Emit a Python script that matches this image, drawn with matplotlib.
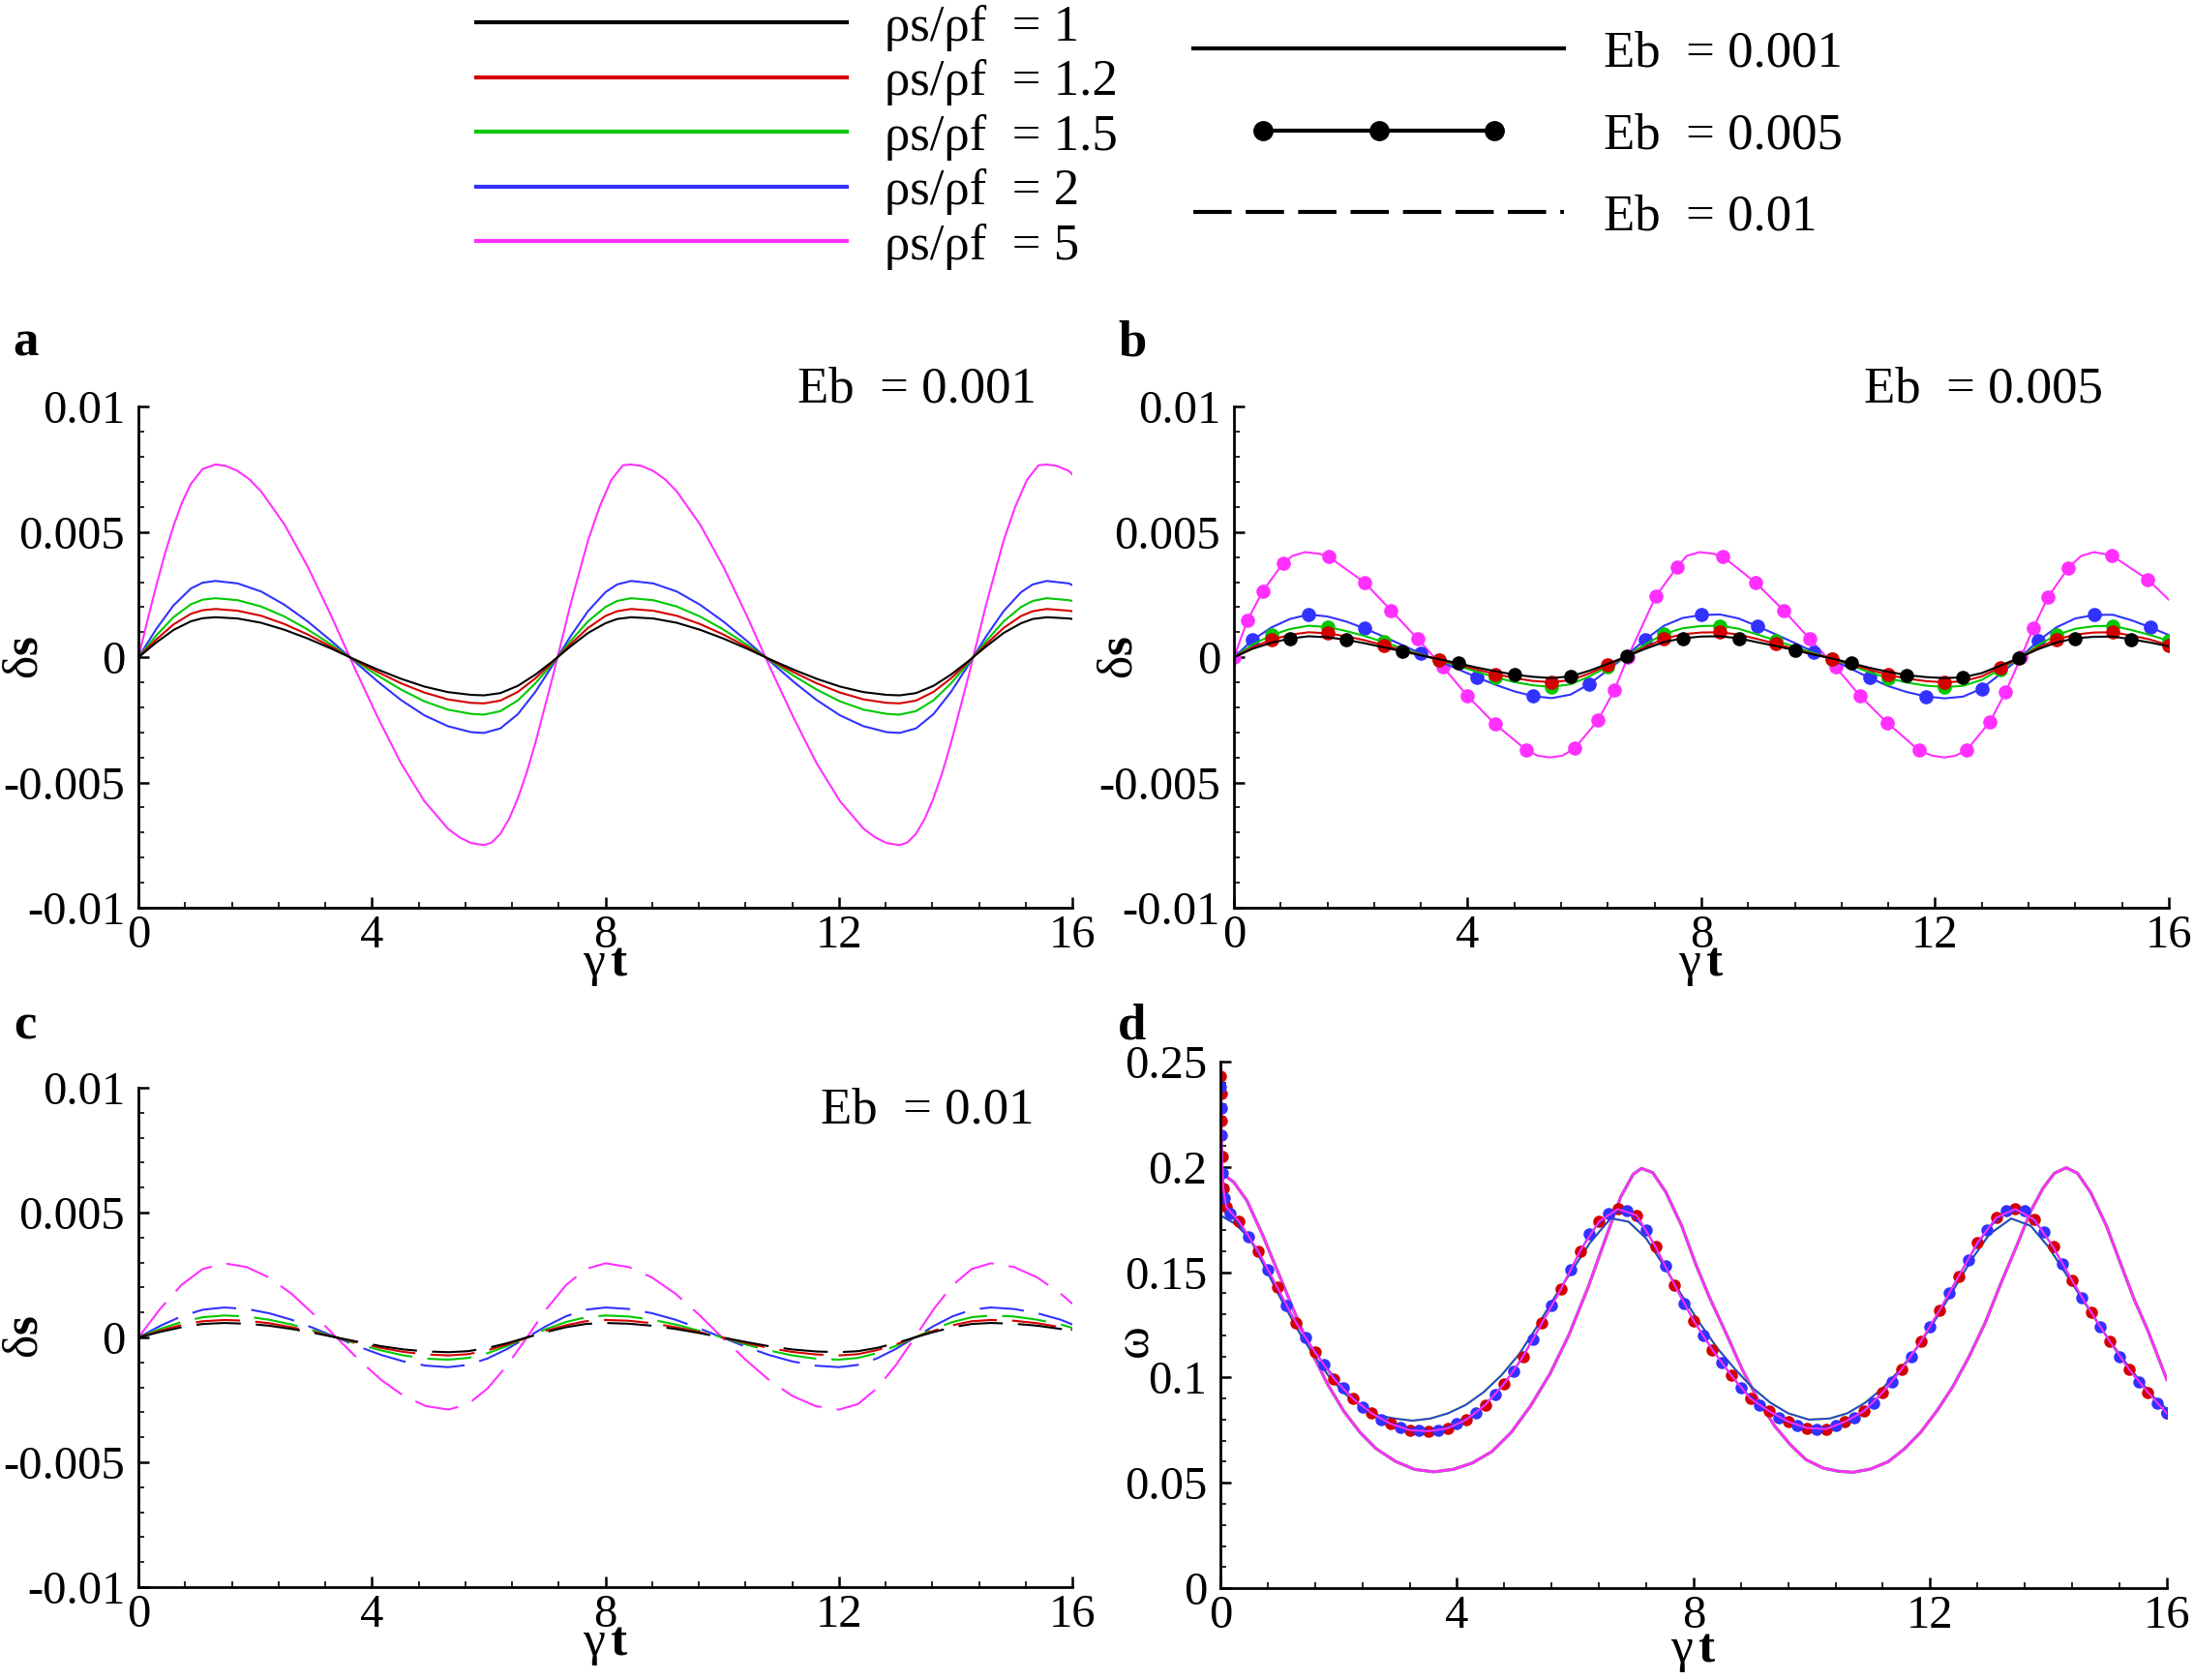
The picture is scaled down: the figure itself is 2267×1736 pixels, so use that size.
import numpy as np
import matplotlib
matplotlib.use("Agg")
import matplotlib.pyplot as plt
from matplotlib.lines import Line2D
from matplotlib.ticker import MultipleLocator
from matplotlib.legend_handler import HandlerLine2D

plt.rcParams.update({
    'font.family': ['Liberation Serif', 'DejaVu Serif'],
    'mathtext.fontset': 'custom',
    'mathtext.rm': 'Liberation Serif',
    'mathtext.bf': 'Liberation Serif:bold',
    'mathtext.it': 'Liberation Serif:italic',
    'axes.unicode_minus': False,
})

# ---------------- labels ----------------
rho_labels = ['ρs/ρf  = 1', 'ρs/ρf  = 1.2', 'ρs/ρf  = 1.5', 'ρs/ρf  = 2', 'ρs/ρf  = 5']
eb_labels = ['Eb  = 0.001', 'Eb  = 0.005', 'Eb  = 0.01']
x_ticks = [0, 4, 8, 12, 16]
x_ticklabels = ['0', '4', '8', '12', '16']
ds_ticks = [-0.01, -0.005, 0, 0.005, 0.01]
ds_ticklabels = ['-0.01', '-0.005', '0', '0.005', '0.01']
w_ticks = [0, 0.05, 0.1, 0.15, 0.2, 0.25]
w_ticklabels = ['0', '0.05', '0.1', '0.15', '0.2', '0.25']

# ---------------- panel a (Eb = 0.001), values in 1e-3 ----------------
t_a5 = [0, 0.15, 0.3, 0.45, 0.6, 0.75, 0.9, 1.1, 1.32, 1.5, 1.7, 1.9, 2.1, 2.5, 2.9, 3.3, 3.7,
        4.1, 4.5, 4.9, 5.3, 5.5, 5.7, 5.92, 6.05, 6.2, 6.35, 6.5, 6.65, 6.8, 7.1, 7.4, 7.7, 7.9,
        8.1, 8.3, 8.44, 8.62, 8.82, 9.02, 9.22, 9.62, 10.02, 10.42, 10.82, 11.22, 11.62, 12.02,
        12.42, 12.62, 12.82, 13.04, 13.17, 13.32, 13.47, 13.62, 13.77, 13.92, 14.22, 14.52,
        14.82, 15.02, 15.22, 15.42, 15.56, 15.74, 15.94, 16.0]
a_r5 = [0, 1.43, 2.81, 4.10, 5.24, 6.20, 6.93, 7.52, 7.70, 7.64, 7.44, 7.11, 6.63, 5.31, 3.62,
        1.67, -0.41, -2.40, -4.24, -5.75, -6.84, -7.19, -7.42, -7.50, -7.40, -7.05, -6.45,
        -5.63, -4.61, -3.42, -0.75, 2.09, 4.65, 6.01, 7.08, 7.67, 7.70, 7.64, 7.44, 7.11, 6.63,
        5.31, 3.62, 1.67, -0.41, -2.40, -4.24, -5.75, -6.84, -7.19, -7.42, -7.50, -7.40, -7.05,
        -6.45, -5.63, -4.61, -3.42, -0.75, 2.09, 4.65, 6.01, 7.08, 7.67, 7.70, 7.64, 7.44, 7.30]
t_a = [0, 0.3, 0.6, 0.9, 1.1, 1.32, 1.7, 2.1, 2.5, 2.9, 3.3, 3.7, 4.1, 4.5, 4.9, 5.3, 5.7, 5.92,
       6.2, 6.5, 6.8, 7.1, 7.4, 7.7, 8.0, 8.2, 8.44, 8.82, 9.22, 9.62, 10.02, 10.42, 10.82, 11.22,
       11.62, 12.02, 12.42, 12.82, 13.04, 13.32, 13.62, 13.92, 14.22, 14.52, 14.82, 15.12, 15.32,
       15.56, 15.94, 16.0]
a_r2 = [0, 1.11, 2.07, 2.75, 2.98, 3.05, 2.95, 2.63, 2.10, 1.43, 0.66, -0.16, -0.97, -1.71, -2.32,
        -2.75, -2.99, -3.02, -2.84, -2.27, -1.38, -0.30, 0.83, 1.84, 2.60, 2.91, 3.05,
        2.95, 2.63, 2.10, 1.43, 0.66, -0.16, -0.97, -1.71, -2.32, -2.75, -2.99, -3.02, -2.84,
        -2.27, -1.38, -0.30, 0.83, 1.84, 2.60, 2.91, 3.05, 2.95, 2.88]
a_r15 = [0, 0.86, 1.60, 2.12, 2.30, 2.36, 2.28, 2.03, 1.63, 1.11, 0.51, -0.12, -0.73, -1.29, -1.76,
         -2.09, -2.26, -2.29, -2.15, -1.72, -1.04, -0.23, 0.64, 1.43, 2.01, 2.25, 2.36,
         2.28, 2.03, 1.63, 1.11, 0.51, -0.12, -0.73, -1.29, -1.76, -2.09, -2.26, -2.29, -2.15,
         -1.72, -1.04, -0.23, 0.64, 1.43, 2.01, 2.25, 2.36, 2.28, 2.25]
a_r12 = [0, 0.70, 1.31, 1.74, 1.88, 1.93, 1.86, 1.66, 1.33, 0.91, 0.42, -0.10, -0.59, -1.04, -1.41,
         -1.68, -1.82, -1.84, -1.73, -1.38, -0.84, -0.18, 0.52, 1.17, 1.65, 1.84, 1.93,
         1.86, 1.66, 1.33, 0.91, 0.42, -0.10, -0.59, -1.04, -1.41, -1.68, -1.82, -1.84, -1.73,
         -1.38, -0.84, -0.18, 0.52, 1.17, 1.65, 1.84, 1.93, 1.86, 1.84]
a_r1 = [0, 0.58, 1.09, 1.44, 1.56, 1.60, 1.55, 1.38, 1.10, 0.75, 0.35, -0.08, -0.49, -0.86, -1.17,
        -1.39, -1.50, -1.52, -1.43, -1.14, -0.69, -0.15, 0.43, 0.97, 1.36, 1.53, 1.60,
        1.55, 1.38, 1.10, 0.75, 0.35, -0.08, -0.49, -0.86, -1.17, -1.39, -1.50, -1.52, -1.43,
        -1.14, -0.69, -0.15, 0.43, 0.97, 1.36, 1.53, 1.60, 1.55, 1.53]

# ---------------- panel b (Eb = 0.005), values in 1e-3 ----------------
t_b5 = [0, 0.23, 0.49, 0.84, 1.0, 1.22, 1.45, 1.62, 2.24, 2.69, 3.14, 3.58, 4.0, 4.47, 5.01, 5.2,
        5.41, 5.62, 5.83, 6.23, 6.51, 6.74, 7.22, 7.58, 7.75, 7.97, 8.2, 8.37, 8.93, 9.41, 9.85,
        10.3, 10.72, 11.18, 11.72, 11.95, 12.16, 12.35, 12.54, 12.94, 13.21, 13.47, 13.68, 13.93,
        14.28, 14.5, 14.72, 15.02, 15.64, 16.0]
b_r5 = [0, 1.46, 2.63, 3.75, 4.05, 4.20, 4.14, 4.02, 2.98, 1.87, 0.75, -0.39, -1.55, -2.67, -3.71,
        -3.93, -4.00, -3.93, -3.64, -2.52, -1.32, 0.0, 2.43, 3.59, 4.05, 4.20, 4.14, 4.02, 2.98,
        1.87, 0.75, -0.39, -1.55, -2.61, -3.71, -3.93, -4.00, -3.93, -3.71, -2.57, -1.38, 0.0,
        1.16, 2.39, 3.57, 4.05, 4.20, 4.07, 3.11, 2.30]
b_r5_marked = [1, 1, 1, 1, 0, 0, 0, 1, 1, 1, 1, 1, 1, 1, 1, 0, 0, 0, 1, 1, 1, 1, 1, 1, 0, 0, 0, 1,
               1, 1, 1, 1, 1, 1, 1, 0, 0, 0, 1, 1, 1, 1, 1, 1, 1, 0, 0, 1, 1, 0]
t_b = np.linspace(0, 16, 51)
b_r2 = [0, 0.69, 1.19, 1.53, 1.71, 1.63, 1.43, 1.15, 0.83, 0.49, 0.15, -0.16, -0.48, -0.80, -1.10,
        -1.36, -1.55, -1.63, -1.49, -1.07, -0.51, 0.07, 0.71, 1.26, 1.57, 1.69, 1.71, 1.55, 1.24,
        0.91, 0.57, 0.22, -0.10, -0.46, -0.82, -1.15, -1.39, -1.56, -1.64, -1.57, -1.25, -0.66,
        -0.05, 0.65, 1.20, 1.55, 1.69, 1.70, 1.48, 1.20, 0.89]
b_r15 = [0, 0.51, 0.88, 1.13, 1.26, 1.21, 1.05, 0.85, 0.61, 0.36, 0.11, -0.12, -0.35, -0.58, -0.80,
         -0.99, -1.12, -1.18, -1.08, -0.77, -0.37, 0.05, 0.52, 0.93, 1.16, 1.25, 1.26, 1.14, 0.91,
         0.67, 0.42, 0.17, -0.07, -0.33, -0.60, -0.83, -1.01, -1.13, -1.19, -1.14, -0.90, -0.48,
         -0.04, 0.48, 0.89, 1.14, 1.24, 1.26, 1.09, 0.89, 0.66]
b_r12 = [0, 0.40, 0.70, 0.90, 1.00, 0.96, 0.84, 0.68, 0.48, 0.29, 0.09, -0.10, -0.29, -0.49, -0.67,
         -0.83, -0.945, -0.995, -0.91, -0.65, -0.31, 0.04, 0.41, 0.74, 0.92, 0.99, 1.00, 0.91,
         0.73, 0.54, 0.33, 0.13, -0.06, -0.28, -0.50, -0.70, -0.85, -0.95, -1.0, -0.96, -0.76,
         -0.40, -0.03, 0.38, 0.71, 0.91, 0.99, 1.00, 0.87, 0.71, 0.48]
b_r1 = [0, 0.34, 0.58, 0.75, 0.84, 0.80, 0.70, 0.56, 0.40, 0.24, 0.08, -0.08, -0.24, -0.41, -0.56,
        -0.69, -0.78, -0.83, -0.76, -0.54, -0.26, 0.03, 0.34, 0.61, 0.76, 0.83, 0.84, 0.76, 0.60,
        0.45, 0.28, 0.11, -0.05, -0.23, -0.42, -0.58, -0.71, -0.79, -0.83, -0.80, -0.63, -0.33,
        -0.02, 0.32, 0.59, 0.76, 0.82, 0.83, 0.72, 0.59, 0.44]

# ---------------- panel c (Eb = 0.01), values in 1e-3 ----------------
t_c = [0, 0.37, 0.74, 1.1, 1.47, 1.854, 2.238, 2.622, 3.006, 3.39, 3.774, 4.158, 4.542, 4.926,
       5.31, 5.646, 5.982, 6.318, 6.655, 6.99, 7.326, 7.662, 8.0, 8.4, 8.8, 9.2, 9.6, 10.0, 10.4,
       10.8, 11.2, 11.6, 12.0, 12.325, 12.65, 12.975, 13.3, 13.625, 13.95, 14.275, 14.6, 15.0,
       15.4, 15.8, 16.0]
c_r5 = [0, 1.14, 2.11, 2.74, 2.97, 2.82, 2.40, 1.75, 0.92, 0, -0.89, -1.70, -2.34, -2.75, -2.89,
        -2.67, -2.04, -1.11, 0, 1.14, 2.10, 2.74, 2.97, 2.82, 2.40, 1.75, 0.92, 0, -0.89, -1.70,
        -2.34, -2.75, -2.89, -2.67, -2.04, -1.11, 0, 1.14, 2.10, 2.74, 2.97, 2.82, 2.40, 1.75, 1.35]
c_r2 = [0, 0.46, 0.85, 1.11, 1.20, 1.14, 0.97, 0.71, 0.37, 0, -0.37, -0.70, -0.96, -1.13, -1.19,
        -1.10, -0.84, -0.46, 0, 0.46, 0.85, 1.11, 1.20, 1.14, 0.97, 0.71, 0.37, 0, -0.37, -0.70,
        -0.96, -1.13, -1.19, -1.10, -0.84, -0.46, 0, 0.46, 0.85, 1.11, 1.20, 1.14, 0.97, 0.71, 0.52]
c_r15 = [0, 0.34, 0.62, 0.81, 0.88, 0.84, 0.71, 0.52, 0.27, 0, -0.28, -0.52, -0.72, -0.85, -0.89,
         -0.82, -0.63, -0.34, 0, 0.34, 0.62, 0.81, 0.88, 0.84, 0.71, 0.52, 0.27, 0, -0.28, -0.52,
         -0.72, -0.85, -0.89, -0.82, -0.63, -0.34, 0, 0.34, 0.62, 0.81, 0.88, 0.84, 0.71, 0.52, 0.38]
c_r12 = [0, 0.27, 0.50, 0.65, 0.70, 0.67, 0.57, 0.41, 0.22, 0, -0.22, -0.42, -0.58, -0.68, -0.72,
         -0.67, -0.51, -0.28, 0, 0.27, 0.49, 0.65, 0.70, 0.67, 0.57, 0.41, 0.22, 0, -0.22, -0.42,
         -0.58, -0.68, -0.72, -0.67, -0.51, -0.28, 0, 0.27, 0.49, 0.65, 0.70, 0.67, 0.57, 0.41, 0.30]
c_r1 = [0, 0.22, 0.41, 0.54, 0.58, 0.55, 0.47, 0.34, 0.18, 0, -0.18, -0.35, -0.48, -0.56, -0.59,
        -0.55, -0.42, -0.23, 0, 0.22, 0.41, 0.54, 0.58, 0.55, 0.47, 0.34, 0.18, 0, -0.18, -0.35,
        -0.48, -0.56, -0.59, -0.55, -0.42, -0.23, 0, 0.22, 0.41, 0.54, 0.58, 0.55, 0.47, 0.34, 0.25]

# ---------------- panel d (omega) ----------------
t_d_large = [0, 0.23, 0.45, 0.72, 0.99, 1.27, 1.54, 1.81, 2.09, 2.36, 2.63, 2.96, 3.28, 3.61, 3.94,
             4.26, 4.59, 4.92, 5.24, 5.57, 5.89, 6.22, 6.55, 6.77, 6.98, 7.12, 7.31, 7.53, 7.8,
             8.04, 8.27, 8.55, 8.82, 9.1, 9.37, 9.64, 9.9, 10.19, 10.45, 10.69, 10.99, 11.29,
             11.56, 11.84, 12.11, 12.38, 12.66, 12.93, 13.2, 13.47, 13.7, 13.91, 14.1, 14.3,
             14.49, 14.71, 14.98, 15.22, 15.45, 15.67, 15.85, 16.0]
w_large = [0.1975, 0.1927, 0.184, 0.1674, 0.149, 0.130, 0.1123, 0.097, 0.0839, 0.074, 0.0663,
           0.0602, 0.0564, 0.0552, 0.0564, 0.0594, 0.0648, 0.074, 0.0863, 0.1016, 0.120, 0.143,
           0.1689, 0.1858, 0.1965, 0.1993, 0.1973, 0.1881, 0.172, 0.1536, 0.138, 0.121, 0.104,
           0.089, 0.077, 0.068, 0.061, 0.057, 0.0555, 0.055, 0.0565, 0.060, 0.066, 0.074, 0.084,
           0.0955, 0.110, 0.126, 0.145, 0.163, 0.179, 0.190, 0.197, 0.1996, 0.197, 0.188, 0.172,
           0.154, 0.137, 0.123, 0.110, 0.099]
t_d_mid = [0, 0.25, 0.5, 0.76, 1.03, 1.3, 1.57, 1.85, 2.12, 2.39, 2.67, 2.95, 3.25, 3.55, 3.85,
           4.15, 4.45, 4.75, 5.05, 5.35, 5.65, 5.95, 6.25, 6.6, 6.9, 7.2, 7.5, 7.8, 8.1, 8.4, 8.7,
           9.0, 9.3, 9.6, 9.95, 10.3, 10.6, 10.9, 11.2, 11.5, 11.8, 12.1, 12.4, 12.7, 13.0, 13.37,
           13.7, 14.0, 14.3, 14.6, 14.9, 15.2, 15.5, 15.8, 16.0]
w_mid = [0.177, 0.173, 0.166, 0.152, 0.137, 0.123, 0.111, 0.100, 0.092, 0.086, 0.082, 0.0805,
         0.0795, 0.0805, 0.083, 0.087, 0.093, 0.101, 0.111, 0.124, 0.138, 0.151, 0.164, 0.1756,
         0.174, 0.166, 0.153, 0.139, 0.126, 0.114, 0.104, 0.095, 0.088, 0.083, 0.080, 0.0805,
         0.083, 0.088, 0.095, 0.104, 0.115, 0.128, 0.142, 0.156, 0.168, 0.1755, 0.172, 0.162,
         0.149, 0.136, 0.123, 0.111, 0.100, 0.090, 0.085]
t_d_red = [0, 0.01, 0.02, 0.03, 0.05, 0.1] + list(np.linspace(0.32, 16.0, 50))
w_red = [0.243, 0.235, 0.222, 0.205, 0.19, 0.181,
         0.174, 0.160, 0.143, 0.126, 0.112, 0.0995, 0.090, 0.083, 0.078, 0.075,
         0.0745, 0.0758, 0.080, 0.087, 0.097, 0.110, 0.126, 0.142, 0.160, 0.174,
         0.180, 0.177, 0.162, 0.144, 0.127, 0.113, 0.101, 0.090, 0.084, 0.079,
         0.076, 0.0755, 0.079, 0.084, 0.093, 0.104, 0.117, 0.132, 0.148, 0.164,
         0.176, 0.180, 0.175, 0.162, 0.146, 0.131, 0.117, 0.104, 0.093, 0.083]
t_d_blue = [0, 0.01, 0.02, 0.04, 0.07] + list(np.linspace(0.16, 15.84, 50)) + [16.0]
w_blue = [0.238, 0.228, 0.215, 0.197, 0.185,
          0.178, 0.167, 0.151, 0.134, 0.119, 0.106, 0.095, 0.086, 0.080, 0.0765,
          0.0748, 0.075, 0.078, 0.083, 0.092, 0.103, 0.118, 0.134, 0.151, 0.168,
          0.178, 0.179, 0.170, 0.153, 0.135, 0.120, 0.107, 0.095, 0.087, 0.081,
          0.077, 0.0755, 0.077, 0.081, 0.088, 0.098, 0.110, 0.124, 0.140, 0.156,
          0.170, 0.179, 0.179, 0.169, 0.154, 0.138, 0.124, 0.110, 0.098, 0.088,
          0.083]

# ---------------- styles ----------------
C_BLACK = '#000000'
C_RED = '#d40000'
C_GREEN = '#00c800'
C_BLUE = '#3232ff'
C_PINK = '#ff30ff'
colors = [C_BLACK, C_RED, C_GREEN, C_BLUE, C_PINK]

fig = plt.figure(figsize=(22.67, 17.36), dpi=100)

ax_a = fig.add_axes([0.0631, 0.4597, 0.4257, 0.2981])
ax_b = fig.add_axes([0.5624, 0.4597, 0.4261, 0.2981])
ax_c = fig.add_axes([0.0631, 0.0553, 0.4257, 0.2972])
ax_d = fig.add_axes([0.5562, 0.0547, 0.4314, 0.3134])


def style_axes(ax, ylim, yticks, yticklabels, yminor):
    ax.set_xlim(0, 16)
    ax.set_ylim(*ylim)
    for s in ['top', 'right']:
        ax.spines[s].set_visible(False)
    for s in ['left', 'bottom']:
        ax.spines[s].set_linewidth(2.0)
    ax.set_xticks(x_ticks)
    ax.set_xticklabels(x_ticklabels)
    ax.set_yticks(yticks)
    ax.set_yticklabels(yticklabels)
    ax.xaxis.set_minor_locator(MultipleLocator(0.8))
    ax.yaxis.set_minor_locator(MultipleLocator(yminor))
    ax.tick_params(which='both', direction='in', top=False, right=False)
    ax.tick_params(which='major', length=8, width=1.8, labelsize=35)
    ax.tick_params(axis='x', which='major', pad=5)
    ax.tick_params(axis='y', which='major', pad=10)
    ax.tick_params(which='minor', length=4, width=1.2)


def labels(ax, ylab, ylab_x, ylab_y, xlab_y):
    ax.text(0.5, xlab_y, r'$\mathrm{γ}\,\mathbf{t}$', transform=ax.transAxes,
            ha='center', va='center', fontsize=37)
    ax.text(ylab_x, ylab_y, ylab, transform=ax.transAxes, rotation=90,
            ha='center', va='center', fontsize=37)


e3 = 1e-3
lw = 1.5

# panel a
ax_a.plot(t_a5, np.array(a_r5) * e3, color=C_PINK, lw=lw)
for vals, c in [(a_r2, C_BLUE), (a_r15, C_GREEN), (a_r12, C_RED), (a_r1, C_BLACK)]:
    ax_a.plot(t_a, np.array(vals) * e3, color=c, lw=lw)
style_axes(ax_a, (-0.01, 0.01), ds_ticks, ds_ticklabels, 0.001)
labels(ax_a, r'$\mathrm{δ}\mathbf{s}$', -0.121, 0.5, -0.116)
ax_a.text(0.961, 1.035, eb_labels[0], transform=ax_a.transAxes, ha='right', va='center', fontsize=38)

# panel b
mk5 = [i for i, m in enumerate(b_r5_marked) if m]
ms_b = 9.5
ax_b.plot(t_b5, np.array(b_r5) * e3, color=C_PINK, lw=lw, marker='o', ms=ms_b, mec=C_PINK, markevery=mk5)
for vals, c, off in [(b_r2, C_BLUE, 1), (b_r15, C_GREEN, 2), (b_r12, C_RED, 2), (b_r1, C_BLACK, 3)]:
    ax_b.plot(t_b, np.array(vals) * e3, color=c, lw=lw, marker='o', ms=ms_b, mec=c,
              markevery=(off, 3))
style_axes(ax_b, (-0.01, 0.01), ds_ticks, ds_ticklabels, 0.001)
labels(ax_b, r'$\mathrm{δ}\mathbf{s}$', -0.122, 0.5, -0.116)
ax_b.text(0.93, 1.035, eb_labels[1], transform=ax_b.transAxes, ha='right', va='center', fontsize=38)

# panel c
for vals, c in [(c_r5, C_PINK), (c_r2, C_BLUE), (c_r15, C_GREEN), (c_r12, C_RED), (c_r1, C_BLACK)]:
    ax_c.plot(t_c, np.array(vals) * e3, color=c, lw=lw, ls=(0, (22, 7.5)))
style_axes(ax_c, (-0.01, 0.01), ds_ticks, ds_ticklabels, 0.001)
labels(ax_c, r'$\mathrm{δ}\mathbf{s}$', -0.121, 0.5, -0.116)
ax_c.text(0.959, 0.955, eb_labels[2], transform=ax_c.transAxes, ha='right', va='center', fontsize=38)

# panel d
ax_d.plot(t_d_large, w_large, color='#4a8f4a', lw=2.3)
ax_d.plot(t_d_large, w_large, color=C_PINK, lw=2.0)
ax_d.plot(t_d_mid, w_mid, color='#2e9a2e', lw=1.6)
ax_d.plot(t_d_mid, w_mid, color=C_BLUE, lw=1.0)
ax_d.plot(t_d_red, w_red, color=C_RED, lw=1.2, marker='o', ms=8, mec=C_RED)
ax_d.plot(t_d_blue, w_blue, color=C_BLUE, lw=1.2, marker='o', ms=8, mec=C_BLUE)
ax_d.plot(t_d_red, w_red, color=C_PINK, lw=1.4)
style_axes(ax_d, (0, 0.25), w_ticks, w_ticklabels, 0.01)
labels(ax_d, 'ω', -0.09, 0.47, -0.12)

# panel letters
for x, y, s in [(0.0115, 0.796, 'a'), (0.516, 0.796, 'b'), (0.0115, 0.389, 'c'), (0.516, 0.389, 'd')]:
    fig.text(x, y, s, fontsize=38, fontweight='bold', ha='center', va='center')

# legends
h_rho = [Line2D([], [], color=c, lw=3) for c in colors]
fig.legend(h_rho, rho_labels, loc='upper left', bbox_to_anchor=(0.217, 0.9973), frameon=False,
           fontsize=38, handlelength=7.25, handletextpad=0.74, labelspacing=0.16,
           borderpad=0, borderaxespad=0)

h_eb = [Line2D([], [], color='k', lw=3),
        Line2D([], [], color='k', lw=3, marker='o', ms=14),
        Line2D([], [], color='k', lw=3, ls=(0, (9.5, 3.5)))]
fig.legend(h_eb, eb_labels, loc='upper left', bbox_to_anchor=(0.544, 0.9816), frameon=False,
           fontsize=38, handlelength=7.25, handletextpad=0.78, labelspacing=0.69,
           borderpad=0, borderaxespad=0,
           handler_map={h_eb[1]: HandlerLine2D(numpoints=3, marker_pad=1.36)})

fig.savefig('out.png', dpi=100)
